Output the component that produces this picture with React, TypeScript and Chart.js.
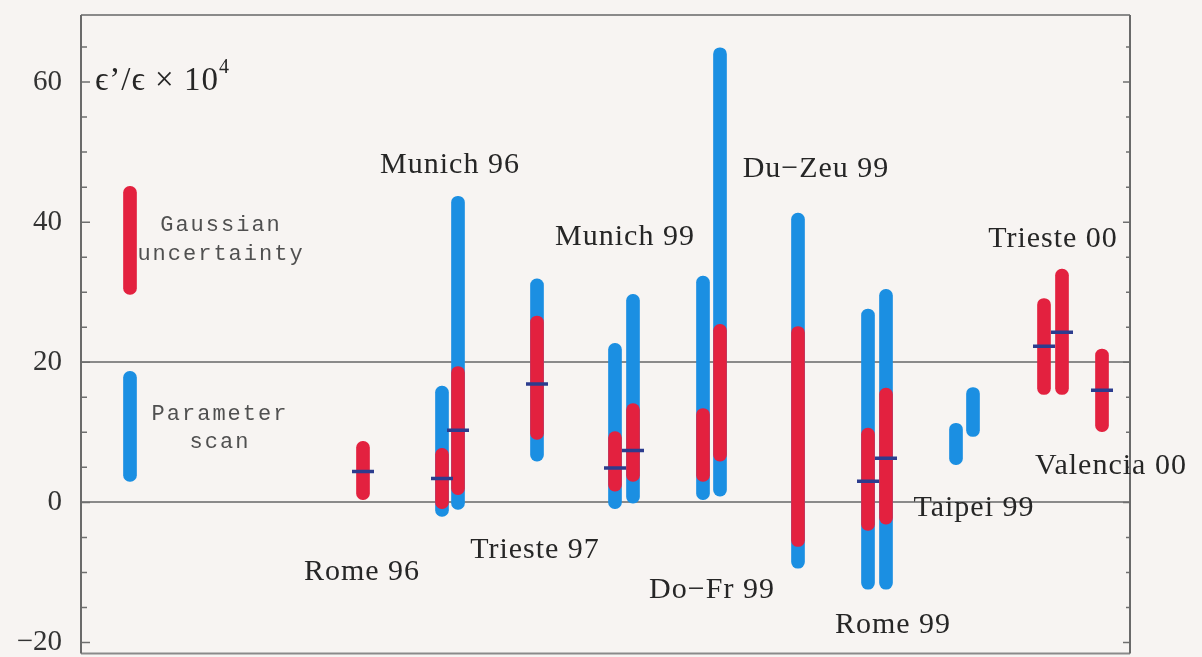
import React, { useEffect, useRef } from 'react';
import { Chart, registerables } from 'chart.js';

Chart.register(...registerables);

// Horizontal slot positions of each column (arbitrary units)
const positions = [4.9, 28.2, 36.1, 37.7, 45.6, 53.4, 55.2, 62.2, 63.9, 71.7, 78.7, 80.5, 87.5, 89.2, 96.3, 98.1, 102.1];
// Parameter scan ranges (blue)
const scanLow: (number | null)[] = [3.0, null, -2.0, -1.0, 5.9, -0.9, -0.1, 0.4, 0.9, -9.4, -12.4, -12.4, 5.4, 9.4, null, null, null];
const scanHigh: (number | null)[] = [18.7, null, 16.6, 43.7, 31.9, 22.7, 29.7, 32.3, 64.9, 41.3, 27.6, 30.4, 11.3, 16.4, null, null, null];
// Gaussian uncertainty ranges (red)
const gaussLow: (number | null)[] = [29.7, 0.4, -0.9, 1.1, 9.0, 1.6, 3.0, 3.0, 5.9, -6.3, -4.0, -3.1, null, null, 15.4, 15.4, 10.1];
const gaussHigh: (number | null)[] = [45.1, 8.7, 7.7, 19.4, 26.6, 10.1, 14.1, 13.4, 25.4, 25.1, 10.6, 16.3, null, null, 29.1, 33.3, 21.9];
// Central values (dark blue marks)
const central: (number | null)[] = [null, 4.4, 3.4, 10.3, 16.9, 4.9, 7.4, null, null, null, 3.0, 6.3, null, null, 22.3, 24.3, 16.0];

// Group labels
const labelNames = ['Rome 96', 'Munich 96', 'Trieste 97', 'Munich 99', 'Do\u2212Fr 99', 'Du\u2212Zeu 99', 'Rome 99', 'Taipei 99', 'Trieste 00', 'Valencia 00'];
const labelX = [28.1, 36.9, 45.4, 54.4, 63.1, 73.5, 81.2, 89.3, 97.2, 103.0];
const labelY = [-11.1, 47.0, -7.9, 36.7, -13.6, 46.4, -18.7, -1.9, 36.4, 4.1];

// Legend texts
const legendText = ['Gaussian', 'uncertainty', 'Parameter', 'scan'];
const legendX = [14.0, 14.0, 13.9, 13.9];
const legendY = [38.7, 34.6, 11.7, 7.7];

// Axis
const yTickLabels = [-20, 0, 20, 40, 60];
const gridLineValues = [0, 20];
const yMin = -21.57;
const yMax = 69.57;
const xMin = 0;
const xMax = 104.9;

const BLUE = '#1b8fe2';
const RED = '#e3213f';
const MARK = '#2c3c8e';
const SERIF = '"Liberation Serif", "DejaVu Serif", "Times New Roman", serif';
const MONO = '"Liberation Mono", "DejaVu Sans Mono", monospace';

function rangeData(lo: (number | null)[], hi: (number | null)[]) {
  const out: { x: number; y: [number, number] }[] = [];
  positions.forEach((x, i) => {
    const a = lo[i];
    const b = hi[i];
    if (a !== null && b !== null) out.push({ x, y: [a, b] });
  });
  return out;
}

function pointData(v: (number | null)[]) {
  const out: { x: number; y: number }[] = [];
  positions.forEach((x, i) => {
    const a = v[i];
    if (a !== null) out.push({ x, y: a });
  });
  return out;
}

const decorPlugin = {
  id: 'decor',
  beforeDatasetsDraw(chart: any) {
    const { ctx, chartArea } = chart;
    const ys = chart.scales.y;
    const { left, right, top, bottom } = chartArea;
    ctx.save();
    // tick labels
    ctx.fillStyle = '#333';
    ctx.font = `29px ${SERIF}`;
    ctx.textAlign = 'right';
    ctx.textBaseline = 'middle';
    yTickLabels.forEach((v) => {
      const s = v < 0 ? '\u2212' + Math.abs(v) : String(v);
      ctx.fillText(s, left - 19, ys.getPixelForValue(v));
    });
    // inner ticks
    ctx.strokeStyle = '#6f6f6f';
    ctx.lineWidth = 1.5;
    for (let v = -20; v <= 65; v += 5) {
      const py = ys.getPixelForValue(v);
      const major = v % 20 === 0;
      const lenL = major ? 9 : 6;
      const lenR = major ? 7 : 4;
      ctx.beginPath();
      ctx.moveTo(left, py);
      ctx.lineTo(left + lenL, py);
      ctx.moveTo(right, py);
      ctx.lineTo(right - lenR, py);
      ctx.stroke();
    }
    // frame
    ctx.lineWidth = 2;
    ctx.strokeStyle = '#8a8a8a';
    ctx.beginPath();
    ctx.moveTo(left, top);
    ctx.lineTo(right, top);
    ctx.moveTo(left, bottom);
    ctx.lineTo(right, bottom);
    ctx.stroke();
    ctx.strokeStyle = '#6a6a6a';
    ctx.beginPath();
    ctx.moveTo(left, top);
    ctx.lineTo(left, bottom);
    ctx.moveTo(right, top);
    ctx.lineTo(right, bottom);
    ctx.stroke();
    ctx.restore();
  },
  afterDatasetsDraw(chart: any) {
    const { ctx } = chart;
    const xs = chart.scales.x;
    const ys = chart.scales.y;
    ctx.save();
    // group labels
    ctx.fillStyle = '#262626';
    ctx.font = `30px ${SERIF}`;
    ctx.textAlign = 'center';
    ctx.textBaseline = 'alphabetic';
    (ctx as any).letterSpacing = '1px';
    labelNames.forEach((t, i) => {
      ctx.fillText(t, xs.getPixelForValue(labelX[i]), ys.getPixelForValue(labelY[i]));
    });
    // legend texts
    ctx.fillStyle = '#505050';
    ctx.font = `22px ${MONO}`;
    (ctx as any).letterSpacing = '2px';
    legendText.forEach((t, i) => {
      ctx.fillText(t, xs.getPixelForValue(legendX[i]), ys.getPixelForValue(legendY[i]));
    });
    // axis title
    (ctx as any).letterSpacing = '1px';
    ctx.fillStyle = '#262626';
    ctx.textAlign = 'left';
    ctx.font = `33px ${SERIF}`;
    const tx = xs.getPixelForValue(1.4);
    const ty = ys.getPixelForValue(58.9);
    const main = '\u03F5\u2019/\u03F5 \u00D7 10';
    ctx.fillText(main, tx, ty);
    const w = ctx.measureText(main).width;
    ctx.font = `20px ${SERIF}`;
    ctx.fillText('4', tx + w, ty - 17);
    ctx.restore();
  },
};

export default function App() {
  const ref = useRef<HTMLCanvasElement | null>(null);

  useEffect(() => {
    if (!ref.current) return;
    const chart = new Chart(ref.current, {
      type: 'bar',
      data: {
        datasets: [
          {
            type: 'scatter',
            label: 'central',
            data: pointData(central),
            pointStyle: 'line',
            pointRadius: 11,
            pointBorderWidth: 3.5,
            borderColor: MARK,
            backgroundColor: MARK,
            order: 0,
          } as any,
          {
            label: 'Gaussian uncertainty',
            data: rangeData(gaussLow, gaussHigh) as any,
            backgroundColor: RED,
            barThickness: 13,
            borderRadius: 7,
            borderSkipped: false,
            grouped: false,
            order: 1,
          } as any,
          {
            label: 'Parameter scan',
            data: rangeData(scanLow, scanHigh) as any,
            backgroundColor: BLUE,
            barThickness: 13,
            borderRadius: 7,
            borderSkipped: false,
            grouped: false,
            order: 2,
          } as any,
        ],
      },
      options: {
        responsive: false,
        animation: false,
        devicePixelRatio: 1,
        layout: { padding: { left: 0, top: 15, right: 72, bottom: 4 } },
        plugins: { legend: { display: false }, tooltip: { enabled: false } },
        scales: {
          x: { type: 'linear', min: xMin, max: xMax, display: false, offset: false },
          y: {
            type: 'linear',
            min: yMin,
            max: yMax,
            afterFit: (s: any) => {
              s.width = 81;
              s.paddingTop = 0;
              s.paddingBottom = 0;
            },
            border: { display: false },
            grid: {
              drawTicks: false,
              lineWidth: 2,
              color: (c: any) => (gridLineValues.includes(c.tick?.value) ? '#8a8a8a' : 'rgba(0,0,0,0)'),
            },
            ticks: {
              stepSize: 5,
              display: false,
            },
          },
        },
      } as any,
      plugins: [decorPlugin],
    });
    return () => chart.destroy();
  }, []);

  return (
    <div style={{ position: 'fixed', left: 0, top: 0, width: 1202, height: 657, overflow: 'hidden', background: '#f7f4f2' }}>
      <canvas ref={ref} width={1202} height={668} style={{ display: 'block' }} />
    </div>
  );
}
